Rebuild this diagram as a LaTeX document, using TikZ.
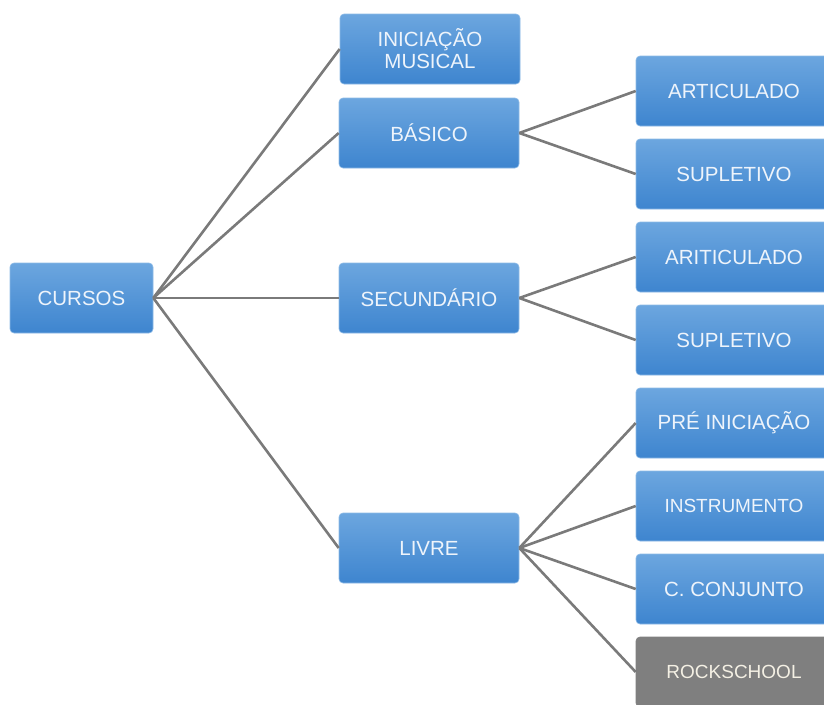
\documentclass[tikz,border=0pt]{standalone}
\usepackage{fontspec}
\setmainfont{Liberation Sans}
\begin{document}
\begin{tikzpicture}[x=1pt,y=-1pt,
  box/.style={rectangle,rounded corners=4pt,top color=boxtop,bottom color=boxbot,
    draw=boxline,line width=0.6pt,minimum height=70pt,inner sep=0pt,
    text=boxtext,font=\fontsize{20.5}{21}\selectfont,align=center},
  midbox/.style={box,minimum width=180pt},
  rbox/.style={box,minimum width=196pt},
  smalltext/.style={font=\fontsize{19}{21}\selectfont},
  graybox/.style={rbox,top color=grayb,bottom color=grayb,draw=grayb,text=graytext},
  link/.style={draw=linkc,line width=2.6pt}]
\definecolor{boxtop}{HTML}{6CA6DF}
\definecolor{boxbot}{HTML}{3E85CF}
\definecolor{boxline}{HTML}{8DBAE6}
\definecolor{boxtext}{HTML}{EEF4FB}
\definecolor{grayb}{HTML}{7F7F7F}
\definecolor{graytext}{HTML}{F4F0E4}
\definecolor{linkc}{HTML}{7A7A7A}
\useasboundingbox (0,0) rectangle (824,704);
\begin{scope}
\clip (0,0) rectangle (824,704);
\node[box,minimum width=143pt] (cursos) at (81.5,298) {CURSOS};
\node[midbox] (inic) at (430,49) {INICIAÇÃO\\[1pt]MUSICAL};
\node[midbox] (basico) at (429,133) {BÁSICO};
\node[midbox] (sec) at (429,298) {SECUNDÁRIO};
\node[midbox] (livre) at (429,548) {LIVRE};
\node[rbox] (art1) at (734,91) {ARTICULADO};
\node[rbox] (sup1) at (734,174) {SUPLETIVO};
\node[rbox] (art2) at (734,257) {ARITICULADO};
\node[rbox] (sup2) at (734,340) {SUPLETIVO};
\node[rbox] (pre) at (734,423) {PRÉ INICIAÇÃO};
\node[rbox,smalltext] (instr) at (734,506) {INSTRUMENTO};
\node[rbox] (conj) at (734,589) {C. CONJUNTO};
\node[graybox,smalltext] (rock) at (734,672) {ROCKSCHOOL};
\foreach \t in {inic,basico,sec,livre}
  \draw[link] (cursos.east) -- (\t.west);
\foreach \t in {art1,sup1}
  \draw[link] (basico.east) -- (\t.west);
\foreach \t in {art2,sup2}
  \draw[link] (sec.east) -- (\t.west);
\foreach \t in {pre,instr,conj,rock}
  \draw[link] (livre.east) -- (\t.west);
\end{scope}
\end{tikzpicture}
\end{document}
